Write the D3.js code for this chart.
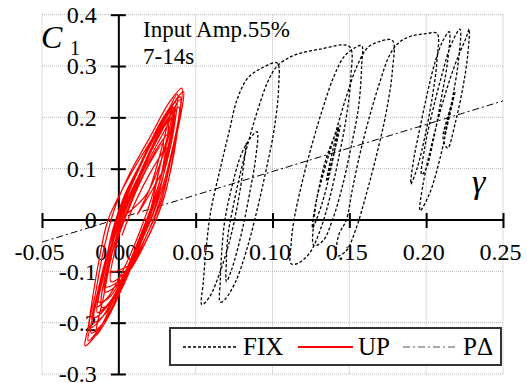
<!DOCTYPE html>
<html>
<head>
<meta charset="utf-8">
<script src="https://cdn.jsdelivr.net/npm/d3@7"></script>
<style>
  body { margin: 0; background: #fff; }
  svg { display: block; }
</style>
</head>
<body>
<svg id="chart" width="527" height="383"></svg>
<script>
const xTicks = [-0.05, 0, 0.05, 0.1, 0.15, 0.2, 0.25];
const xTickLabels = ["-0.05", "0.00", "0.05", "0.10", "0.15", "0.20", "0.25"];
const yTicks = [-0.3, -0.2, -0.1, 0, 0.1, 0.2, 0.3, 0.4];
const yTickLabels = ["-0.3", "-0.2", "-0.1", "0", "0.1", "0.2", "0.3", "0.4"];

const legendLabels = ["FIX", "UP", "P\u0394"];

// P-delta reference line
const pDelta = [[-0.05, -0.043], [0.25, 0.232]];

// fixed base: gamma, C1
const fixData = [
  [0.083, 0.150], [0.079, 0.060], [0.073, -0.030], [0.066, -0.100], [0.059, -0.150], [0.054, -0.165],
  [0.055, -0.120], [0.057, -0.050], [0.060, 0.020], [0.066, 0.100], [0.072, 0.175], [0.077, 0.235],
  [0.084, 0.277], [0.093, 0.296], [0.103, 0.306],
  [0.104, 0.260], [0.101, 0.175], [0.096, 0.100], [0.090, 0.020], [0.083, -0.060], [0.076, -0.120],
  [0.069, -0.155], [0.066, -0.160],
  [0.066, -0.120], [0.067, -0.060], [0.069, 0.000], [0.074, 0.070], [0.080, 0.130], [0.087, 0.165], [0.090, 0.172],
  [0.089, 0.120], [0.085, 0.050], [0.081, -0.010], [0.077, -0.060], [0.073, -0.100], [0.070, -0.120],
  [0.070, -0.080], [0.071, -0.030], [0.074, 0.020], [0.079, 0.090], [0.085, 0.160], [0.091, 0.220],
  [0.097, 0.270], [0.103, 0.300], [0.110, 0.315], [0.116, 0.323], [0.131, 0.333], [0.150, 0.338],
  [0.151, 0.280], [0.148, 0.200], [0.143, 0.120], [0.137, 0.040], [0.131, -0.020], [0.124, -0.065],
  [0.116, -0.085], [0.112, -0.085],
  [0.112, -0.050], [0.114, 0.000], [0.119, 0.070], [0.126, 0.150], [0.133, 0.220], [0.140, 0.280],
  [0.147, 0.320], [0.154, 0.336], [0.158, 0.340],
  [0.158, 0.300], [0.156, 0.220], [0.151, 0.140], [0.145, 0.060], [0.139, 0.000], [0.133, -0.040], [0.127, -0.050],
  [0.127, 0.000], [0.130, 0.060], [0.136, 0.130], [0.144, 0.185],
  [0.140, 0.130], [0.135, 0.075], [0.138, 0.120], [0.143, 0.180],
  [0.138, 0.100], [0.132, 0.030], [0.126, -0.016],
  [0.128, 0.030], [0.134, 0.100], [0.141, 0.170], [0.148, 0.240], [0.155, 0.300], [0.162, 0.336],
  [0.170, 0.348], [0.178, 0.350],
  [0.178, 0.290], [0.174, 0.210], [0.168, 0.130], [0.161, 0.050], [0.154, -0.020], [0.148, -0.060], [0.142, -0.070],
  [0.143, -0.030], [0.148, 0.000], [0.152, 0.060], [0.157, 0.130], [0.163, 0.200], [0.170, 0.270],
  [0.176, 0.320], [0.182, 0.345], [0.190, 0.358], [0.200, 0.363], [0.207, 0.364],
  [0.207, 0.310], [0.204, 0.240], [0.199, 0.160], [0.194, 0.100], [0.190, 0.070],
  [0.192, 0.120], [0.196, 0.180], [0.201, 0.250], [0.206, 0.310], [0.211, 0.350], [0.215, 0.367],
  [0.214, 0.310], [0.210, 0.240], [0.205, 0.160], [0.200, 0.100], [0.197, 0.088],
  [0.199, 0.140], [0.204, 0.210], [0.210, 0.280], [0.216, 0.340], [0.222, 0.372],
  [0.221, 0.310], [0.216, 0.220], [0.209, 0.120], [0.202, 0.050], [0.196, 0.018],
  [0.198, 0.070], [0.203, 0.140], [0.209, 0.210], [0.215, 0.270], [0.221, 0.320], [0.226, 0.355], [0.228, 0.372],
  [0.227, 0.320], [0.224, 0.260], [0.219, 0.190], [0.214, 0.140],
  [0.211, 0.160], [0.214, 0.200], [0.218, 0.240], [0.215, 0.200], [0.212, 0.165], [0.216, 0.220], [0.219, 0.250]
];

// uplift-allowed base: gamma, C1
const upData = [
  [0.000, 0.000], [0.018, 0.050], [0.028, 0.120], [0.034, 0.180], [0.037, 0.230],
  [0.029, 0.190], [0.016, 0.120], [0.004, 0.050], [-0.004, -0.020], [-0.009, -0.090], [-0.013, -0.160],
  [-0.006, -0.150], [0.006, -0.090], [0.018, -0.020], [0.028, 0.060], [0.035, 0.140], [0.039, 0.200], [0.041, 0.257],
  [0.033, 0.230], [0.020, 0.160], [0.007, 0.090], [-0.003, 0.020], [-0.010, -0.060], [-0.015, -0.140], [-0.019, -0.210],
  [-0.011, -0.190], [0.000, -0.130], [0.012, -0.060], [0.023, 0.020], [0.030, 0.100], [0.033, 0.170],
  [0.025, 0.140], [0.013, 0.070], [0.003, 0.000], [-0.005, -0.070], [-0.009, -0.130],
  [0.004, -0.110], [0.018, -0.040], [0.028, 0.030], [0.034, 0.100], [0.038, 0.170], [0.040, 0.240],
  [0.030, 0.200], [0.016, 0.120], [0.004, 0.040], [-0.005, -0.040], [-0.012, -0.120], [-0.017, -0.190], [-0.020, -0.235],
  [-0.010, -0.200], [0.001, -0.140], [0.011, -0.070], [0.019, 0.000], [0.025, 0.080], [0.029, 0.150],
  [0.020, 0.110], [0.009, 0.040], [0.000, -0.030], [-0.007, -0.100],
  [0.008, -0.085], [0.018, -0.030], [0.027, 0.040], [0.034, 0.120], [0.039, 0.220],
  [0.029, 0.170], [0.015, 0.090], [0.003, 0.010], [-0.006, -0.060], [-0.012, -0.130], [-0.016, -0.190],
  [-0.008, -0.170], [0.004, -0.110], [0.018, -0.030], [0.028, 0.040], [0.034, 0.120], [0.040, 0.200], [0.042, 0.250],
  [0.035, 0.225], [0.022, 0.160], [0.006, 0.080], [-0.007, 0.000], [-0.013, -0.080], [-0.017, -0.150], [-0.020, -0.210], [-0.022, -0.245],
  [-0.014, -0.220], [-0.004, -0.160], [0.008, -0.080], [0.020, 0.010], [0.029, 0.100], [0.034, 0.160], [0.036, 0.210],
  [0.027, 0.170], [0.014, 0.090], [0.002, 0.010], [-0.006, -0.070], [-0.011, -0.170],
  [-0.002, -0.150], [0.009, -0.080], [0.019, 0.000], [0.027, 0.080], [0.031, 0.150], [0.032, 0.190],
  [0.022, 0.140], [0.011, 0.060], [0.001, -0.020], [-0.005, -0.120],
  [0.008, -0.090], [0.021, -0.020], [0.030, 0.050], [0.035, 0.120], [0.038, 0.180], [0.040, 0.235],
  [0.031, 0.190], [0.017, 0.110], [0.004, 0.030], [-0.006, -0.050], [-0.013, -0.130], [-0.017, -0.200],
  [-0.008, -0.180], [0.003, -0.110], [0.014, -0.030], [0.024, 0.050], [0.031, 0.130], [0.035, 0.200],
  [0.025, 0.160], [0.013, 0.080], [0.002, 0.000], [-0.005, -0.070], [-0.009, -0.140],
  [0.001, -0.120], [0.012, -0.050], [0.023, 0.030], [0.031, 0.110], [0.036, 0.180], [0.038, 0.245],
  [0.030, 0.200], [0.018, 0.130], [0.006, 0.050], [-0.003, -0.030], [-0.010, -0.110], [-0.014, -0.180],
  [-0.006, -0.160], [0.006, -0.090], [0.017, -0.010], [0.026, 0.070], [0.033, 0.150], [0.037, 0.215],
  [0.028, 0.180], [0.015, 0.100], [0.004, 0.020], [-0.004, -0.060], [-0.010, -0.150], [-0.015, -0.225],
  [-0.007, -0.190], [0.004, -0.120], [0.015, -0.040], [0.024, 0.040], [0.030, 0.100],
  [0.022, 0.060], [0.012, 0.010],
  [0.020, 0.060], [0.027, 0.130], [0.032, 0.190], [0.035, 0.225],
  [0.027, 0.190], [0.014, 0.110], [0.002, 0.030], [-0.006, -0.050], [-0.011, -0.120], [-0.015, -0.170],
  [-0.007, -0.150], [0.004, -0.090], [0.014, -0.020], [0.022, 0.050], [0.028, 0.120], [0.033, 0.180], [0.036, 0.220],
  [0.027, 0.180], [0.013, 0.100], [0.001, 0.020], [-0.007, -0.060], [-0.013, -0.140], [-0.018, -0.220],
  [-0.010, -0.200], [0.000, -0.140], [0.010, -0.070], [0.020, 0.010], [0.027, 0.080], [0.031, 0.140],
  [0.022, 0.100], [0.010, 0.030], [0.002, -0.030]
];

// pick the first serif face the browser really has
function pickFont(candidates) {
  const ctx = document.createElement("canvas").getContext("2d");
  const probe = "Input Amp.55% 0.123 FIXUP";
  const width = f => { ctx.font = "40px " + f; return ctx.measureText(probe).width; };
  const mono = width("monospace"), sans = width("sans-serif");
  for (const c of candidates) {
    if (width(`"${c}", monospace`) !== mono && width(`"${c}", sans-serif`) !== sans) return `"${c}", serif`;
  }
  return "serif";
}
const serif = pickFont([
  "Liberation Serif", "Times New Roman", "Tinos", "Times", "Nimbus Roman", "Nimbus Roman No9 L",
  "DejaVu Serif", "Noto Serif", "FreeSerif", "Noto Serif CJK JP", "Noto Serif CJK SC", "Georgia"
]);

const svg = d3.select("#chart");

const x = d3.scaleLinear().domain([-0.05, 0.25]).range([42, 503]);
const y = d3.scaleLinear().domain([-0.3, 0.4]).range([374, 14.7]);

// dotted grid
const grid = svg.append("g")
  .attr("stroke", "#b8b8b8")
  .attr("stroke-width", 1)
  .attr("stroke-dasharray", "1,1");
grid.selectAll(".gx").data(xTicks).join("line")
  .attr("x1", d => x(d)).attr("x2", d => x(d))
  .attr("y1", y(0.4)).attr("y2", y(-0.3));
grid.selectAll(".gy").data(yTicks).join("line")
  .attr("x1", x(-0.05)).attr("x2", x(0.25))
  .attr("y1", d => y(d)).attr("y2", d => y(d));

// axes cross at the origin, ticks straddle the axis lines
const xAxis = svg.append("g")
  .attr("transform", `translate(0,${y(0) - 7})`)
  .call(d3.axisBottom(x).tickValues(xTicks)
    .tickFormat((d, i) => xTickLabels[i])
    .tickSize(15).tickSizeOuter(0).tickPadding(15));
xAxis.select(".domain").remove();
xAxis.attr("font-size", 24).attr("font-family", serif);
xAxis.selectAll("line").attr("stroke", "#000").attr("stroke-width", 2);
xAxis.selectAll("text").attr("fill", "#000").attr("dx", -3);

const yAxis = svg.append("g")
  .attr("transform", `translate(${x(0) + 7},0)`)
  .call(d3.axisLeft(y).tickValues(yTicks)
    .tickFormat((d, i) => yTickLabels[i])
    .tickSize(15).tickSizeOuter(0).tickPadding(14));
yAxis.select(".domain").remove();
yAxis.attr("font-size", 24).attr("font-family", serif);
yAxis.selectAll("line").attr("stroke", "#000").attr("stroke-width", 2);
yAxis.selectAll("text").attr("fill", "#000");

svg.append("line")
  .attr("x1", x(-0.05)).attr("x2", x(0.25))
  .attr("y1", y(0)).attr("y2", y(0))
  .attr("stroke", "#000").attr("stroke-width", 2);
svg.append("line")
  .attr("x1", x(0)).attr("x2", x(0))
  .attr("y1", y(0.4)).attr("y2", y(-0.3))
  .attr("stroke", "#000").attr("stroke-width", 2);

const line = d3.line()
  .x(d => x(d[0]))
  .y(d => y(d[1]));
const smooth = d3.line()
  .x(d => x(d[0]))
  .y(d => y(d[1]))
  .curve(d3.curveCatmullRom.alpha(0.5));

svg.append("path")
  .datum(pDelta)
  .attr("d", line)
  .attr("fill", "none")
  .attr("stroke", "#000")
  .attr("stroke-width", 1)
  .attr("stroke-dasharray", "7,3,2,3");

svg.append("path")
  .datum(fixData)
  .attr("d", smooth)
  .attr("fill", "none")
  .attr("stroke", "#000")
  .attr("stroke-width", 1.3)
  .attr("stroke-dasharray", "3,2");

svg.append("path")
  .datum(upData)
  .attr("d", smooth)
  .attr("fill", "none")
  .attr("stroke", "#ff0000")
  .attr("stroke-width", 1.25);

// axis titles and annotation
svg.append("text")
  .attr("x", 41).attr("y", 48)
  .attr("font-family", serif)
  .attr("font-size", 32)
  .attr("font-style", "italic")
  .text("C");
svg.append("text")
  .attr("x", 70).attr("y", 55)
  .attr("font-family", serif)
  .attr("font-size", 20)
  .text("1");

svg.append("text")
  .attr("x", 472).attr("y", 193)
  .attr("font-family", serif)
  .attr("font-size", 34)
  .attr("font-style", "italic")
  .text("\u03b3");

const note = svg.append("text")
  .attr("font-family", serif)
  .attr("font-size", 23)
  .attr("fill", "#000");
note.append("tspan").attr("x", 143).attr("y", 37).text("Input Amp.55%");
note.append("tspan").attr("x", 143).attr("y", 64).text("7-14s");

// legend
const legend = svg.append("g");
legend.append("rect")
  .attr("x", 170).attr("y", 328)
  .attr("width", 331).attr("height", 37)
  .attr("fill", "#fff")
  .attr("stroke", "#333")
  .attr("stroke-width", 2);

const legendStyles = [
  { stroke: "#000", width: 1.3, dash: "3,2", x0: 183 },
  { stroke: "#ff0000", width: 2, dash: null, x0: 298 },
  { stroke: "#555", width: 1, dash: "7,3,2,3", x0: 403 }
];
legendLabels.forEach((label, i) => {
  const s = legendStyles[i];
  legend.append("line")
    .attr("x1", s.x0).attr("x2", s.x0 + 55)
    .attr("y1", 347).attr("y2", 347)
    .attr("stroke", s.stroke)
    .attr("stroke-width", s.width)
    .attr("stroke-dasharray", s.dash);
  legend.append("text")
    .attr("x", s.x0 + 60).attr("y", 355)
    .attr("font-family", serif)
    .attr("font-size", 25)
    .text(label);
});
</script>
</body>
</html>
